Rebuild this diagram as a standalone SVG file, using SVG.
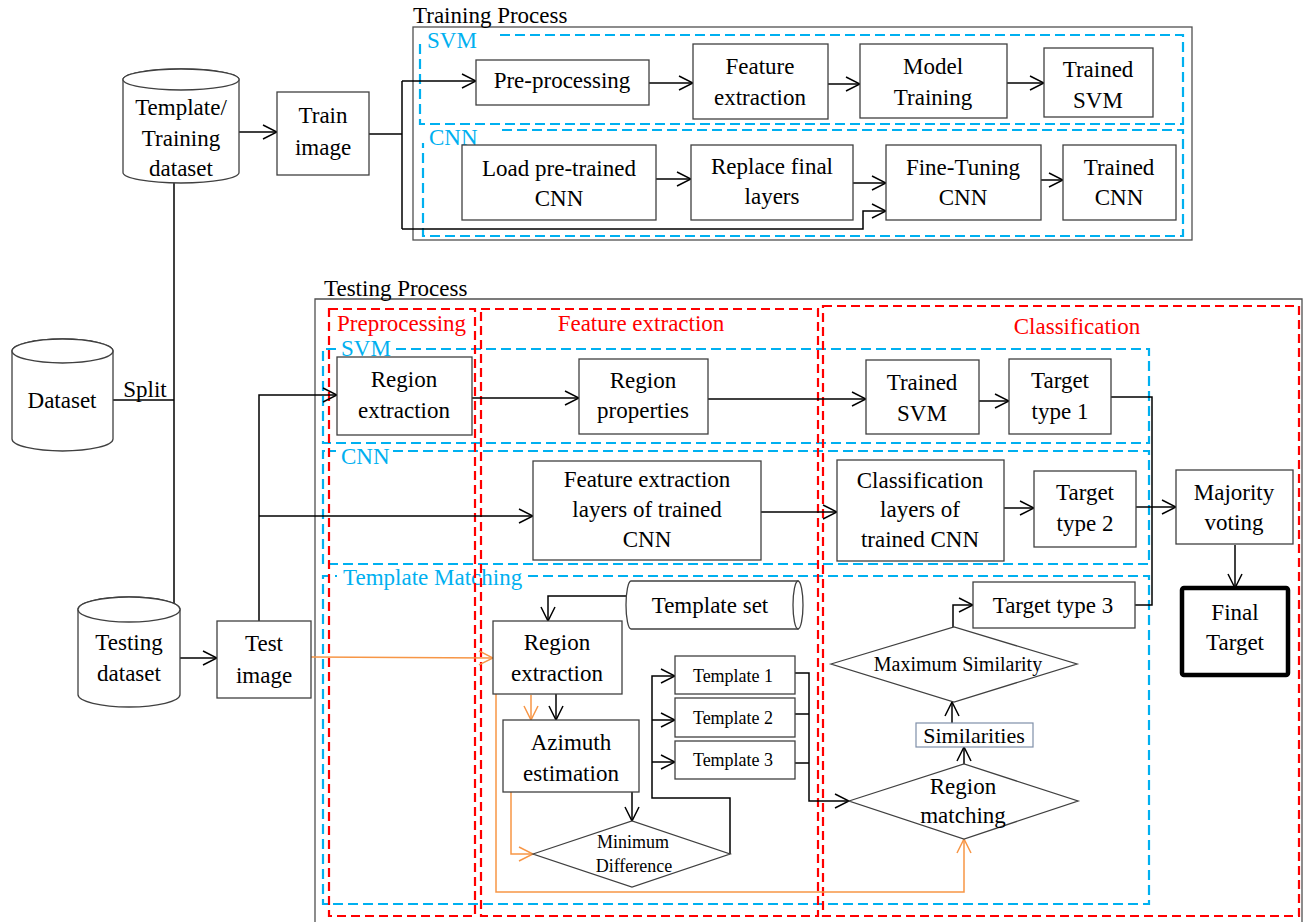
<svg xmlns="http://www.w3.org/2000/svg" width="1305" height="922" viewBox="0 0 1305 922" font-family="'Liberation Serif','Times New Roman',serif">
<style>
text{font-family:"Liberation Serif","Times New Roman",serif;font-size:23px;fill:#000;text-anchor:middle}
.lbl{text-anchor:start}
.blue{fill:#00B0F0}
.red{fill:#FF0000}
.box{fill:#fff;stroke:#404040;stroke-width:1.3}
.frame{fill:none;stroke:#505050;stroke-width:1.3}
.bd{fill:none;stroke:#00B0F0;stroke-width:2.2;stroke-dasharray:10 5}
.rd{fill:none;stroke:#FF0000;stroke-width:2.2;stroke-dasharray:9 5}
.e{fill:none;stroke:#000;stroke-width:1.5}
.ea{fill:none;stroke:#000;stroke-width:1.5;marker-end:url(#ah)}
.oa{fill:none;stroke:#F79646;stroke-width:1.5;marker-end:url(#oh)}
.o{fill:none;stroke:#F79646;stroke-width:1.5}
.sm{font-size:18px}
</style>
<defs>
<marker id="ah" viewBox="0 0 16 16" refX="15" refY="8" markerWidth="16" markerHeight="16" markerUnits="userSpaceOnUse" orient="auto"><path d="M1,1 L15,8 L1,15" fill="none" stroke="#000" stroke-width="1.5"/></marker>
<marker id="oh" viewBox="0 0 16 16" refX="15" refY="8" markerWidth="16" markerHeight="16" markerUnits="userSpaceOnUse" orient="auto"><path d="M1,1 L15,8 L1,15" fill="none" stroke="#F79646" stroke-width="1.5"/></marker>
</defs>
<rect width="1305" height="922" fill="#fff"/>

<g id="training-process">
<rect class="frame" x="413" y="27" width="779" height="213"/>
<text class="lbl" x="413" y="23">Training Process</text>
<path class="bd" d="M500,35 H1183 V124 H420 V43"/>
<text class="lbl blue" x="427" y="48">SVM</text>
<path class="bd" d="M502,130 H1183 V236 H423 V143"/>
<text class="lbl blue" x="429" y="145">CNN</text>
</g>
<g id="testing-process">
<path class="frame" d="M315,930 V299 H1302 V930"/>
<text class="lbl" x="324" y="296">Testing Process</text>
<path class="bd" d="M396,349 H1149 V443 H323 V349 H336"/>
<text class="lbl blue" x="341" y="356">SVM</text>
<path class="bd" d="M393,451 H1149 V564 H323 V451 H336"/>
<text class="lbl blue" x="341" y="464">CNN</text>
<path class="bd" d="M528,576 H1149 V904 H323 V576 H337"/>
<text class="lbl blue" x="343" y="585">Template Matching</text>
<rect class="rd" x="329" y="309" width="146" height="607"/>
<text class="lbl red" x="337" y="331">Preprocessing</text>
<rect class="rd" x="481" y="309" width="337" height="607"/>
<text class="red" x="641" y="331">Feature extraction</text>
<rect class="rd" x="823" y="306" width="476" height="610"/>
<text class="red" x="1077" y="334">Classification</text>
</g>

<g id="connectors">
<path class="ea" d="M239,132 H277"/>
<path class="e" d="M369,134 H402"/>
<path class="ea" d="M402,81 V229 M402,81 H476"/>
<path class="ea" d="M402,229 H863 V211 H886"/>
<path class="ea" d="M649,83 H693"/>
<path class="ea" d="M828,84 H860"/>
<path class="ea" d="M1007,83 H1044"/>
<path class="ea" d="M656,179 H691"/>
<path class="ea" d="M853,183 H886"/>
<path class="ea" d="M1041,180 H1063"/>
<path class="e" d="M174,183 V604"/>
<path class="e" d="M113,400 H174"/>
<text x="145" y="397">Split</text>
<path class="ea" d="M180,658 H217"/>
<path class="ea" d="M259,621 V395 H337"/>
<path class="ea" d="M259,516 H533"/>
<path class="oa" d="M311,657 L493,658"/>
<path class="ea" d="M472,398 H579"/>
<path class="ea" d="M708,399 H866"/>
<path class="ea" d="M979,401 H1009"/>
<path class="ea" d="M761,512 H837"/>
<path class="ea" d="M1004,508 H1034"/>
<path class="e" d="M1111,397 H1152 V605 H1135"/>
<path class="ea" d="M1136,507 H1176"/>
<path class="ea" d="M1235,545 V588"/>
<path class="ea" d="M626,596 H548 V621"/>
<path class="ea" d="M556,694 V720"/>
<path class="oa" d="M531,695 V720"/>
<path class="oa" d="M511,792 V854 H533"/>
<path class="oa" d="M496,694 V892 H964 V839"/>
<path class="ea" d="M632,792 V821"/>
<path class="ea" d="M730,854 V798 H652 V676 H675"/>
<path class="ea" d="M652,720 H675"/>
<path class="ea" d="M652,762 H675"/>
<path class="ea" d="M795,673 H809 V801 H849"/>
<path class="e" d="M795,714 H809 M795,763 H809"/>
<path class="ea" d="M964,764 V747"/>
<path class="ea" d="M952,723 V702"/>
<path class="ea" d="M953,627 V605 H973"/>
</g>

<g id="template-training-dataset">
<path class="box" d="M123,79.5 V172.5 A58,10.5 0 0 0 239,172.5 V79.5 A58,10.5 0 0 0 123,79.5 Z"/>
<ellipse class="box" cx="181" cy="79.5" rx="58" ry="10.5"/>
<text x="181" y="115">Template/</text>
<text x="181" y="146">Training</text>
<text x="181" y="176">dataset</text>
</g>
<g id="dataset">
<path class="box" d="M12,351 V439 A50.5,12 0 0 0 113,439 V351 A50.5,12 0 0 0 12,351 Z"/>
<ellipse class="box" cx="62.5" cy="351" rx="50.5" ry="12"/>
<text x="62" y="408">Dataset</text>
</g>
<g id="testing-dataset">
<path class="box" d="M78,609.5 V694.5 A51,12.5 0 0 0 180,694.5 V609.5 A51,12.5 0 0 0 78,609.5 Z"/>
<ellipse class="box" cx="129" cy="609.5" rx="51" ry="12.5"/>
<text x="129" y="650">Testing</text>
<text x="129" y="681">dataset</text>
</g>
<g id="train-image">
<rect class="box" x="277" y="92" width="92" height="83"/>
<text x="323" y="123">Train</text>
<text x="323" y="155">image</text>
</g>
<g id="test-image">
<rect class="box" x="217" y="621" width="94" height="77"/>
<text x="264" y="651">Test</text>
<text x="264" y="683">image</text>
</g>
<g id="pre-processing">
<rect class="box" x="476" y="60" width="173" height="45"/>
<text x="562" y="88">Pre-processing</text>
</g>
<g id="feature-extraction-train">
<rect class="box" x="693" y="44" width="135" height="75"/>
<text x="760" y="74">Feature</text>
<text x="760" y="105">extraction</text>
</g>
<g id="model-training">
<rect class="box" x="860" y="44" width="147" height="74"/>
<text x="933" y="74">Model</text>
<text x="933" y="105">Training</text>
</g>
<g id="trained-svm-train">
<rect class="box" x="1044" y="48" width="109" height="69"/>
<text x="1098" y="77">Trained</text>
<text x="1098" y="108">SVM</text>
</g>
<g id="load-pretrained">
<rect class="box" x="462" y="145" width="194" height="75"/>
<text x="559" y="176">Load pre-trained</text>
<text x="559" y="206">CNN</text>
</g>
<g id="replace-final">
<rect class="box" x="691" y="145" width="162" height="75"/>
<text x="772" y="174">Replace final</text>
<text x="772" y="204">layers</text>
</g>
<g id="fine-tuning">
<rect class="box" x="886" y="145" width="155" height="75"/>
<text x="963" y="175">Fine-Tuning</text>
<text x="963" y="205">CNN</text>
</g>
<g id="trained-cnn-train">
<rect class="box" x="1063" y="145" width="113" height="75"/>
<text x="1119" y="175">Trained</text>
<text x="1119" y="205">CNN</text>
</g>
<g id="region-extraction-svm">
<rect class="box" x="337" y="357" width="135" height="78"/>
<text x="404" y="387">Region</text>
<text x="404" y="418">extraction</text>
</g>
<g id="region-properties">
<rect class="box" x="579" y="359" width="129" height="75"/>
<text x="643" y="388">Region</text>
<text x="643" y="418">properties</text>
</g>
<g id="trained-svm">
<rect class="box" x="866" y="360" width="113" height="74"/>
<text x="922" y="390">Trained</text>
<text x="922" y="421">SVM</text>
</g>
<g id="target-type-1">
<rect class="box" x="1009" y="359" width="102" height="75"/>
<text x="1060" y="388">Target</text>
<text x="1060" y="419">type 1</text>
</g>
<g id="feature-extraction-layers">
<rect class="box" x="533" y="461" width="228" height="99"/>
<text x="647" y="487">Feature extraction</text>
<text x="647" y="517">layers of trained</text>
<text x="647" y="547">CNN</text>
</g>
<g id="classification-layers">
<rect class="box" x="837" y="460" width="167" height="101"/>
<text x="920" y="488">Classification</text>
<text x="920" y="517">layers of</text>
<text x="920" y="547">trained CNN</text>
</g>
<g id="target-type-2">
<rect class="box" x="1034" y="471" width="102" height="76"/>
<text x="1085" y="500">Target</text>
<text x="1085" y="531">type 2</text>
</g>
<g id="majority-voting">
<rect class="box" x="1176" y="470" width="117" height="74"/>
<text x="1234" y="500">Majority</text>
<text x="1234" y="530">voting</text>
</g>
<g id="final-target">
<rect x="1182" y="588" width="106" height="87" rx="2" fill="#fff" stroke="#000" stroke-width="4.5"/>
<text x="1235" y="620">Final</text>
<text x="1235" y="650">Target</text>
</g>
<g id="template-set">
<path class="box" d="M631,581 H798 V629 H631 A5,24 0 0 1 631,581 Z"/>
<ellipse class="box" cx="798" cy="605" rx="5" ry="24"/>
<text x="710" y="613">Template set</text>
</g>
<g id="region-extraction-tm">
<rect class="box" x="493" y="621" width="129" height="73"/>
<text x="557" y="650">Region</text>
<text x="557" y="681">extraction</text>
</g>
<g id="azimuth-estimation">
<rect class="box" x="503" y="720" width="136" height="72"/>
<text x="571" y="750">Azimuth</text>
<text x="571" y="781">estimation</text>
</g>
<g id="minimum-difference">
<polygon class="box" points="533,854 632,821 730,854 632,887"/>
<text class="sm" x="633" y="848">Minimum</text>
<text class="sm" x="634" y="872">Difference</text>
</g>
<g id="template-1">
<rect class="box" x="675" y="656" width="120" height="38"/>
<text class="sm" x="733" y="682">Template 1</text>
</g>
<g id="template-2">
<rect class="box" x="675" y="698" width="120" height="39"/>
<text class="sm" x="733" y="724">Template 2</text>
</g>
<g id="template-3">
<rect class="box" x="675" y="741" width="120" height="38"/>
<text class="sm" x="733" y="766">Template 3</text>
</g>
<g id="region-matching">
<polygon class="box" points="849,801 964,764 1078,801 964,839"/>
<text x="963" y="794">Region</text>
<text x="963" y="823">matching</text>
</g>
<g id="similarities">
<rect x="916" y="723" width="117" height="24" fill="#fff" stroke="#7F8FA9" stroke-width="1.2"/>
<text x="974" y="743" style="font-size:22px">Similarities</text>
</g>
<g id="maximum-similarity">
<polygon class="box" points="831,664 954,627 1077,664 954,702"/>
<text x="958" y="671" style="font-size:20px">Maximum Similarity</text>
</g>
<g id="target-type-3">
<rect class="box" x="973" y="582" width="162" height="46"/>
<text x="1053" y="613">Target type 3</text>
</g>
</svg>
